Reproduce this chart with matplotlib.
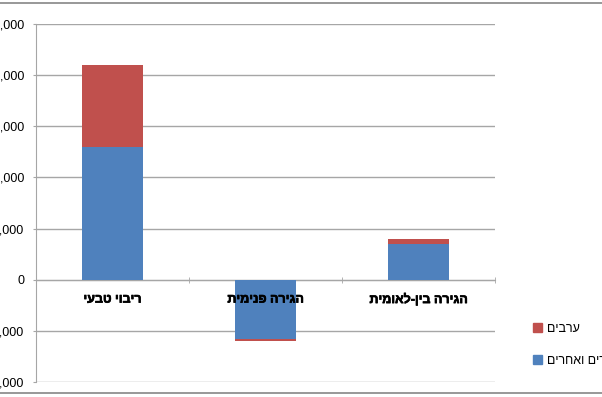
import matplotlib.pyplot as plt
import matplotlib.patheffects as pe
from matplotlib.lines import Line2D
from matplotlib.patches import Patch
import numpy as np

plt.rcParams['font.family'] = ['Liberation Sans', 'DejaVu Sans']

# Hebrew text is stored in logical order and reversed for drawing (no bidi in matplotlib)
categories = ['ריבוי טבעי', 'הגירה פנימית', 'הגירה בין-לאומית']
series_names = ['יהודים ואחרים', 'ערבים']
jews_other = [13000, -5800, 3500]
arabs = [8000, -150, 500]
y_ticks = [-10000, -5000, 0, 5000, 10000, 15000, 20000, 25000]

blue = '#4F81BD'
red = '#C0504D'
grid_col = '#a6a6a6'


def rtl(s):
    return s[::-1]


fig = plt.figure(figsize=(6.02, 3.97), dpi=100)
W, H = 602, 397
ax = fig.add_axes([36 / W, (H - 382) / H, (495 - 36) / W, (382 - 24) / H])

x = np.arange(len(categories))
# stack: positive values on positive base, negative on negative base
jo = np.array(jews_other, dtype=float)
ar = np.array(arabs, dtype=float)
base_ar = np.where(ar >= 0, np.maximum(jo, 0), np.minimum(jo, 0))
ax.bar(x, jo, width=0.4, color=blue, zorder=2)
ax.bar(x, ar, width=0.4, bottom=base_ar, color=red, zorder=2)

ax.set_xlim(-0.5, len(categories) - 0.5)
ax.set_ylim(y_ticks[0], y_ticks[-1])
ax.tick_params(axis='x', which='major', length=0, labelbottom=False)
ax.tick_params(axis='x', which='minor', length=4, color=grid_col, direction='inout')
ax.tick_params(axis='y', length=2.5, color=grid_col, labelsize=9, pad=6)

ax.set_yticks(y_ticks)
ax.set_yticklabels(['{:,}'.format(v) for v in y_ticks])
ax.yaxis.grid(True, color=grid_col, linewidth=1.0)
ax.yaxis.set_zorder(1)

ax.set_xticks(x)
ax.set_xticks(np.arange(len(categories) + 1) - 0.5, minor=True)

# category labels just under the zero line, drawn over the bars
for xi, c in zip(x, categories):
    ax.annotate(rtl(c), xy=(xi, 0), xytext=(0, -10), textcoords='offset points',
                ha='center', va='top', fontsize=9, fontweight='bold', zorder=6,
                path_effects=[pe.withStroke(linewidth=0.5, foreground='black')])

for side in ['top', 'right']:
    ax.spines[side].set_visible(False)
ax.spines['bottom'].set_position(('data', 0))
ax.spines['bottom'].set_color(grid_col)
ax.spines['bottom'].set_zorder(1)
ax.spines['left'].set_color(grid_col)

handles = [Patch(color=red), Patch(color=blue)]
ax.legend(handles, [rtl(series_names[1]), rtl(series_names[0])],
          loc='upper left', bbox_to_anchor=(528 / W, 1 - 318 / H),
          bbox_transform=fig.transFigure, frameon=False, fontsize=9,
          handlelength=0.7, handleheight=0.7, handletextpad=0.4,
          labelspacing=1.6, borderaxespad=0)

# outer chart frame (cropped)
fig.add_artist(Line2D([0, 1], [1 - 3 / H, 1 - 3 / H], color='#868686', lw=1.2,
                      transform=fig.transFigure))
fig.add_artist(Line2D([0, 1], [1 - 393 / H, 1 - 393 / H], color='#868686', lw=1.2,
                      transform=fig.transFigure))

fig.savefig('out.png', dpi=100)
